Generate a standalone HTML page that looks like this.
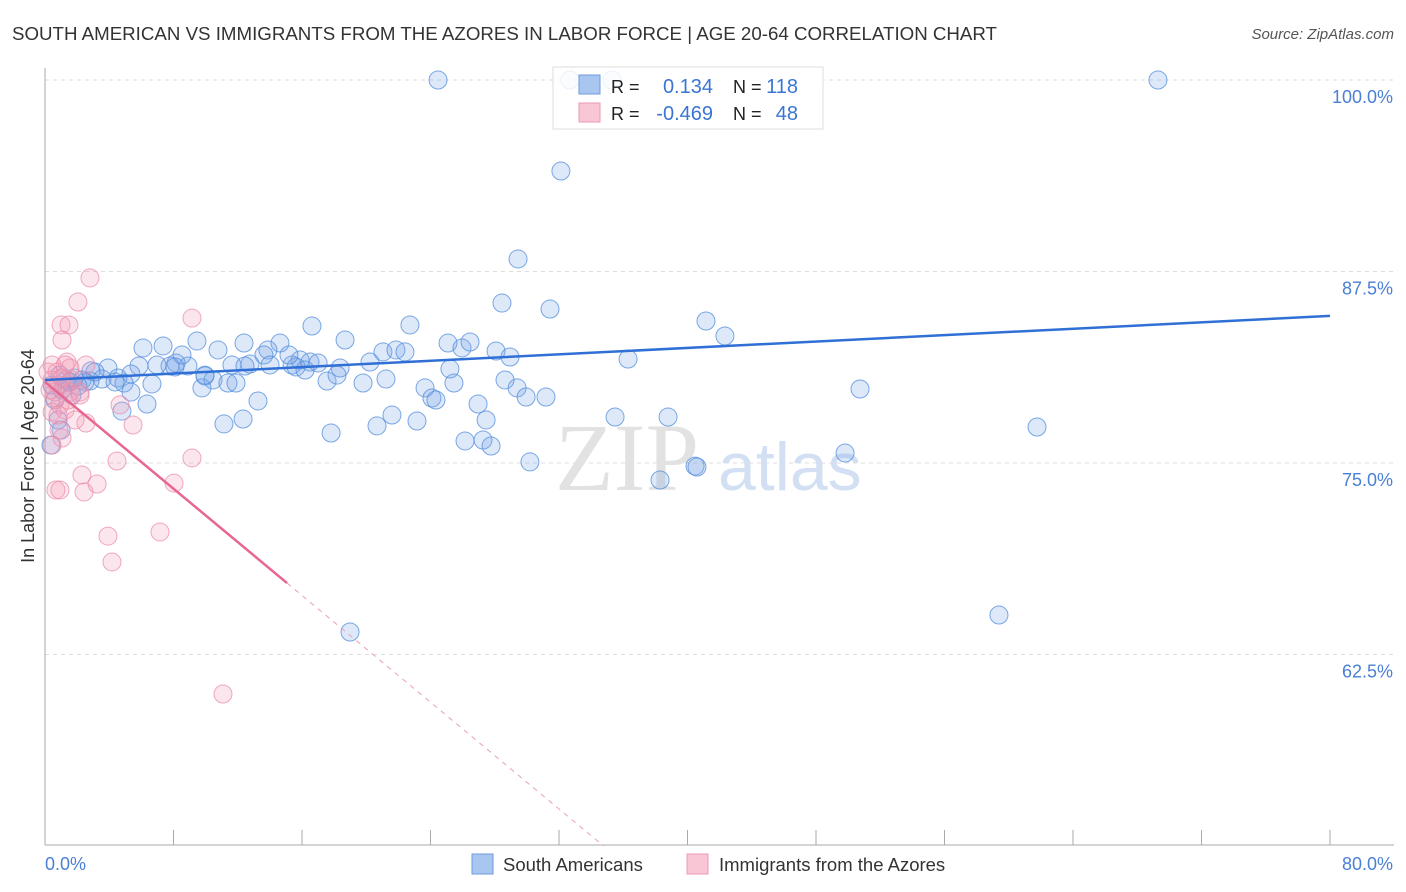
<!DOCTYPE html>
<html><head><meta charset="utf-8"><style>
body{margin:0;background:#fff;font-family:"Liberation Sans",sans-serif}
svg{display:block}
</style></head><body>
<svg id="chart" width="1406" height="892" xmlns="http://www.w3.org/2000/svg">
<text x="12" y="40" font-size="18.5" fill="#333" textLength="985" lengthAdjust="spacingAndGlyphs">SOUTH AMERICAN VS IMMIGRANTS FROM THE AZORES IN LABOR FORCE | AGE 20-64 CORRELATION CHART</text>
<text x="1394" y="39" font-size="15" fill="#555" font-style="italic" text-anchor="end">Source: ZipAtlas.com</text>
<g id="grid"></g>
<text x="555" y="490" font-size="96" fill="#e2e2e2" font-family="Liberation Serif">ZIP</text>
<text x="718" y="490" font-size="68" fill="#d3e0f3">atlas</text>
<g id="pts"></g>
<g id="trend"></g>
<text transform="translate(34,456) rotate(-90)" font-size="18" fill="#333" text-anchor="middle">In Labor Force | Age 20-64</text>
<text x="45" y="870" font-size="18" fill="#4a7fd6">0.0%</text>
<text x="1393" y="870" font-size="18" fill="#4a7fd6" text-anchor="end">80.0%</text>
<g>
<rect x="553" y="67" width="270" height="62" fill="#fff" fill-opacity="0.85" stroke="#ddd"/>
<rect x="579" y="75" width="21" height="19" fill="#a9c6f0" stroke="#6d9be0"/>
<rect x="579" y="103" width="21" height="19" fill="#f8c6d4" stroke="#ec9ab3"/>
<text x="611" y="93" font-size="18" fill="#222">R =</text><text x="713" y="93" font-size="20" fill="#3a75d4" text-anchor="end">0.134</text>
<text x="733" y="93" font-size="18" fill="#222">N =</text><text x="798" y="93" font-size="20" fill="#3a75d4" text-anchor="end">118</text>
<text x="611" y="120" font-size="18" fill="#222">R =</text><text x="713" y="120" font-size="20" fill="#3a75d4" text-anchor="end">-0.469</text>
<text x="733" y="120" font-size="18" fill="#222">N =</text><text x="798" y="120" font-size="20" fill="#3a75d4" text-anchor="end">48</text>
</g>
<g><rect x="472" y="854" width="21" height="20" fill="#a9c6f0" stroke="#6d9be0"/><text x="503" y="871" font-size="18.5" fill="#333">South Americans</text></g>
<g><rect x="687" y="854" width="21" height="20" fill="#f8c6d4" stroke="#ec9ab3"/><text x="719" y="871" font-size="18.5" fill="#333">Immigrants from the Azores</text></g>
</svg>
<script>
const bluePx=[[438,80],[1158,80],[570,80],[612,80],[561,171],[518,259],[502,303],[550,309],[706,321],[725,336],[410,325],[312,326],[345,340],[197,341],[143,348],[163,346],[244,343],[218,350],[280,343],[268,350],[264,355],[300,360],[310,362],[292,365],[318,363],[296,367],[250,364],[232,365],[188,366],[176,363],[170,366],[182,355],[157,365],[139,366],[108,368],[91,371],[131,374],[102,379],[118,378],[82,380],[70,382],[90,381],[124,383],[152,384],[205,376],[213,380],[228,383],[236,383],[202,388],[131,392],[147,404],[122,411],[258,401],[224,424],[243,419],[340,368],[327,381],[337,375],[363,383],[370,362],[383,352],[396,350],[405,352],[386,379],[425,388],[432,398],[436,400],[454,383],[448,343],[450,369],[462,348],[470,342],[496,351],[510,357],[505,380],[517,388],[526,397],[546,397],[478,404],[486,420],[465,441],[483,440],[491,446],[530,462],[392,415],[377,426],[331,433],[417,421],[350,632],[615,417],[668,417],[628,359],[660,480],[695,466],[697,467],[845,453],[860,389],[1037,427],[999,615],[51,445],[55,400],[62,390],[58,420],[52,385],[66,380],[74,378],[60,375],[72,395],[61,430],[95,372],[85,382],[78,386],[205,375],[115,382],[289,355],[270,365],[175,367],[245,366],[305,370]];
const pinkPx=[[90,278],[78,302],[61,325],[69,325],[192,318],[62,340],[52,365],[57,372],[67,362],[70,368],[86,365],[52,380],[58,385],[64,388],[70,392],[80,392],[55,398],[60,405],[65,410],[52,412],[75,420],[86,423],[120,405],[133,425],[59,430],[62,438],[52,445],[117,461],[192,458],[82,475],[56,490],[60,490],[84,492],[97,484],[174,483],[108,536],[160,532],[112,562],[223,694],[72,380],[48,372],[55,392],[62,378],[68,400],[58,415],[80,395],[65,365],[50,390]];
const blueX=bluePx.map(p=>+((p[0]-45)/16.0625).toFixed(2));
const blueY=bluePx.map(p=>+(100-(p[1]-80)/15.32).toFixed(2));
const pinkX=pinkPx.map(p=>+((p[0]-45)/16.0625).toFixed(2));
const pinkY=pinkPx.map(p=>+(100-(p[1]-80)/15.32).toFixed(2));
const yTicks=[100,87.5,75,62.5];
const yTickLabels=["100.0%","87.5%","75.0%","62.5%"];
const xTicks=[0,8,16,24,32,40,48,56,64,72,80];
const blueTrend=[80.42,84.6];
const pinkTrend=[80.29,-0.871];
const sx=v=>45+v*16.0625, sy=v=>80+(100-v)*15.32;
const NS="http://www.w3.org/2000/svg";
function mk(t,a,p){const e=document.createElementNS(NS,t);for(const k in a)e.setAttribute(k,a[k]);p.appendChild(e);return e;}
const grid=document.getElementById('grid');
yTicks.forEach((v,i)=>{const l=mk('line',{x1:45,x2:1394,y1:sy(v),y2:sy(v),stroke:'#ddd','stroke-dasharray':'4,4'},grid);


const t=mk('text',{x:1393,y:sy(v)+23,'font-size':18,fill:'#4a7fd6','text-anchor':'end'},grid);t.textContent=yTickLabels[i];

});
const ax=mk('line',{x1:45,x2:45,y1:68,y2:845,stroke:'#aaa'},grid);


const bx=mk('line',{x1:45,x2:1394,y1:845,y2:845,stroke:'#aaa'},grid);


xTicks.forEach(v=>{const l=mk('line',{x1:sx(v),x2:sx(v),y1:830,y2:845,stroke:'#aaa'},grid);

});
const pts=document.getElementById('pts');
blueX.forEach((x,i)=>{const c=mk('circle',{cx:sx(x),cy:sy(blueY[i]),r:9,fill:'rgba(120,165,230,0.25)',stroke:'rgba(80,140,220,0.75)','stroke-width':1},pts);

});
pinkX.forEach((x,i)=>{const c=mk('circle',{cx:sx(x),cy:sy(pinkY[i]),r:9,fill:'rgba(245,155,185,0.25)',stroke:'rgba(235,140,170,0.75)','stroke-width':1},pts);

});
const tr=document.getElementById('trend');
const b=mk('line',{x1:sx(0),y1:sy(blueTrend[0]),x2:sx(80),y2:sy(blueTrend[1]),stroke:'#2f6fd6','stroke-width':2.5},tr);


const pe=15.07, pend=(pinkTrend[0]-50)/(-pinkTrend[1]);
const p1=mk('line',{x1:sx(0),y1:sy(pinkTrend[0]),x2:sx(pe),y2:sy(pinkTrend[0]+pinkTrend[1]*pe),stroke:'#e8668f','stroke-width':2.5},tr);


const p2=mk('line',{x1:sx(pe),y1:sy(pinkTrend[0]+pinkTrend[1]*pe),x2:sx(pend),y2:sy(50),stroke:'#e8a0b5','stroke-width':1,'stroke-dasharray':'5,5'},tr);


</script>
</body></html>
